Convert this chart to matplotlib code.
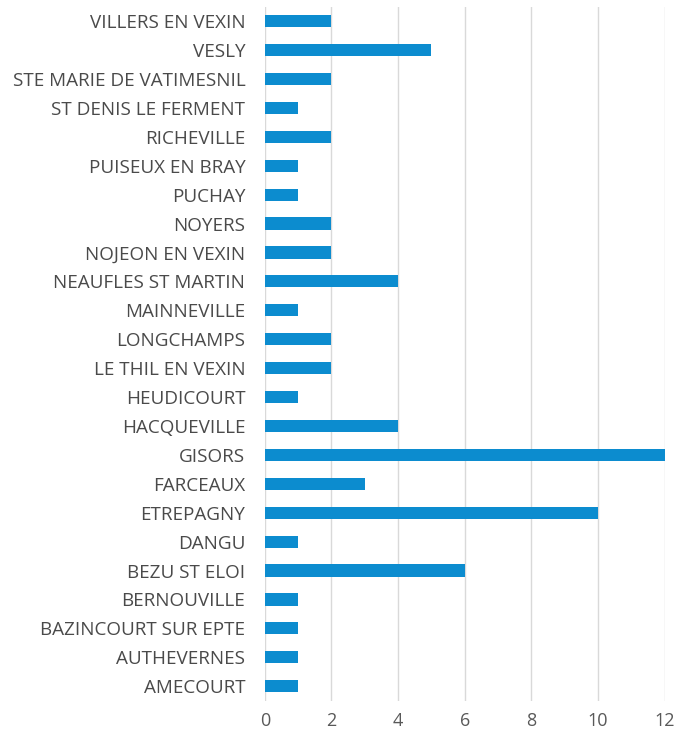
import matplotlib
matplotlib.use("Agg")
import matplotlib.pyplot as plt

# communes, listed bottom to top as in the chart
communes = [
    "AMECOURT", "AUTHEVERNES", "BAZINCOURT SUR EPTE", "BERNOUVILLE",
    "BEZU ST ELOI", "DANGU", "ETREPAGNY", "FARCEAUX", "GISORS",
    "HACQUEVILLE", "HEUDICOURT", "LE THIL EN VEXIN", "LONGCHAMPS",
    "MAINNEVILLE", "NEAUFLES ST MARTIN", "NOJEON EN VEXIN", "NOYERS",
    "PUCHAY", "PUISEUX EN BRAY", "RICHEVILLE", "ST DENIS LE FERMENT",
    "STE MARIE DE VATIMESNIL", "VESLY", "VILLERS EN VEXIN",
]
counts = [1, 1, 1, 1, 6, 1, 10, 3, 12, 4, 1, 2, 2, 1, 4, 2, 2, 1, 1, 2, 1, 2, 5, 2]
xticks = [0, 2, 4, 6, 8, 10, 12]

plt.rcParams['font.family'] = ['Open Sans', 'DejaVu Sans']

fig = plt.figure(figsize=(6.79, 7.36), dpi=100)
ax = fig.add_axes([0.390, 0.048, 0.589, 0.943])

ypos = list(range(len(communes)))
ax.barh(ypos, counts, height=0.42, color='#0C8CCF', zorder=3)

ax.set_xlim(0, 12)
ax.set_ylim(-0.5, len(communes) - 0.5)
ax.set_yticks(ypos)
ax.set_yticklabels(communes, fontsize=13.6, color='#4A4A4A')
ax.set_xticks(xticks)
ax.set_xticklabels([str(v) for v in xticks], fontsize=13, color='#595959')

ax.grid(axis='x', color='#D9D9D9', linewidth=1, zorder=0)
for s in ax.spines.values():
    s.set_visible(False)
ax.tick_params(length=0)
ax.tick_params(axis='y', pad=14)
ax.tick_params(axis='x', pad=8)

fig.savefig("out.png", dpi=100)
